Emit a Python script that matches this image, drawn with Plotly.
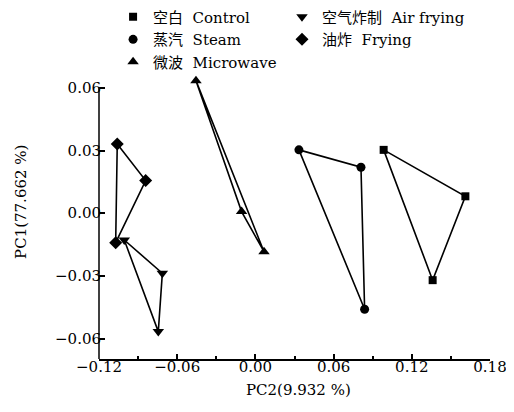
import plotly.graph_objects as go

# PCA scores (PC2 on x, PC1 on y)
control_x = [0.0984, 0.1611, 0.1360]
control_y = [0.0303, 0.0081, -0.0320]
steam_x = [0.0334, 0.0810, 0.0838]
steam_y = [0.0303, 0.0220, -0.0459]
micro_x = [-0.0456, -0.0106, 0.0066]
micro_y = [0.0634, 0.0008, -0.0184]
air_x = [-0.1006, -0.0714, -0.0745]
air_y = [-0.0128, -0.0287, -0.0566]
fry_x = [-0.1060, -0.0842, -0.1072]
fry_y = [0.0331, 0.0156, -0.0141]

names = ["空白\u00a0\u00a0Control", "蒸汽\u00a0\u00a0Steam", "微波\u00a0\u00a0Microwave",
         "空气炸制\u00a0\u00a0Air frying", "油炸\u00a0\u00a0Frying"]
symbols = ["square", "circle", "triangle-up", "triangle-down", "diamond"]
sizes = [8, 9, 10, 10, 10]
legends = ["legend", "legend", "legend", "legend2", "legend2"]
xs = [control_x, steam_x, micro_x, air_x, fry_x]
ys = [control_y, steam_y, micro_y, air_y, fry_y]

FONT = "DejaVu Serif, Noto Sans CJK SC, serif"
Y_AXIS_TOP = 0.0604

fig = go.Figure()
for x, y in zip(xs, ys):
    fig.add_trace(go.Scatter(x=x + [x[0]], y=y + [y[0]], mode="lines",
                             line=dict(color="black", width=1.6),
                             showlegend=False, hoverinfo="skip"))
for x, y, n, s, sz, lg in zip(xs, ys, names, symbols, sizes, legends):
    fig.add_trace(go.Scatter(x=x, y=y, mode="markers", name=n, legend=lg,
                             cliponaxis=False,
                             marker=dict(symbol=s, size=sz, color="black")))

fig.update_layout(
    width=506, height=404,
    margin=dict(l=91, r=24, t=67, b=53, autoexpand=False),
    plot_bgcolor="white", paper_bgcolor="white",
    font=dict(family=FONT, size=15, color="black"),
    legend=dict(x=0.036, y=1.262, xanchor="left", yanchor="top",
                font=dict(family=FONT, size=15), itemwidth=30,
                bgcolor="rgba(0,0,0,0)", tracegroupgap=0),
    legend2=dict(x=0.468, y=1.262, xanchor="left", yanchor="top",
                 font=dict(family=FONT, size=15), itemwidth=30,
                 bgcolor="rgba(0,0,0,0)", tracegroupgap=0),
    xaxis=dict(range=[-0.12, 0.18], tick0=-0.12, dtick=0.06, tickformat=".2f",
               showline=True, linecolor="black", linewidth=1.5, mirror=False,
               ticks="inside", ticklen=5, tickcolor="black", tickwidth=1.5,
               ticklabelstandoff=-7,
               minor=dict(dtick=0.03, tick0=-0.12, ticks="inside", ticklen=3,
                          tickcolor="black", tickwidth=1.5),
               showgrid=False, zeroline=False),
    yaxis=dict(range=[-0.0697, 0.0661], tick0=0, dtick=0.03, tickformat=".2f",
               showline=False, ticklabelstandoff=-3,
               ticks="inside", ticklen=6, tickcolor="black", tickwidth=1.5,
               showgrid=False, zeroline=False),
    shapes=[dict(type="line", xref="paper", x0=0, x1=0, yref="y",
                 y0=-0.0697, y1=Y_AXIS_TOP, line=dict(color="black", width=1.5))],
    annotations=[
        dict(text="PC2(9.932 %)", x=0.509, y=-0.109, xref="paper", yref="paper",
             showarrow=False, xanchor="center", yanchor="middle", font=dict(size=15)),
        dict(text="PC1(77.662 %)", x=-0.1995, y=0.553, xref="paper", yref="paper",
             showarrow=False, textangle=-90, xanchor="center", yanchor="middle",
             font=dict(size=15)),
    ],
)

fig.write_html("out.html")
